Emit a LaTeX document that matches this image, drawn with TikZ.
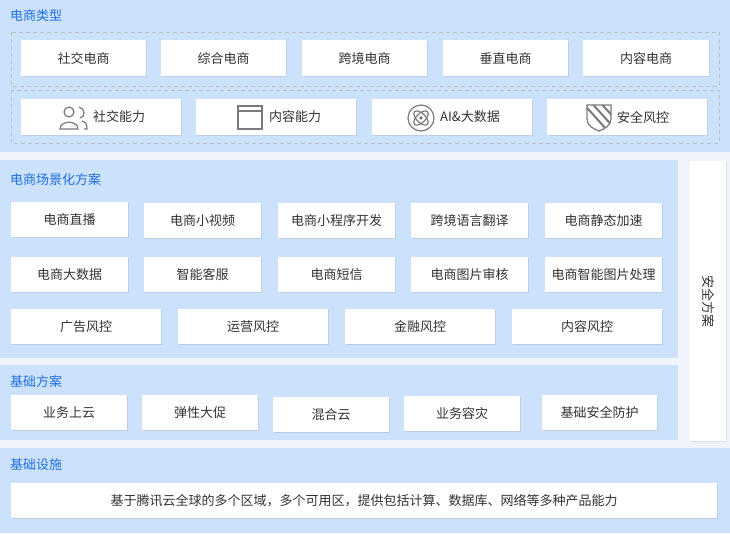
\documentclass[tikz,border=0pt]{standalone}
\usepackage{fontspec}
\setmainfont{Noto Sans CJK SC}
\usetikzlibrary{shadows}
\definecolor{pan}{HTML}{CCE1FC}
\definecolor{bgc}{HTML}{F1F5FB}
\definecolor{ttl}{HTML}{1F6FE5}
\definecolor{txt}{HTML}{333333}
\definecolor{ico}{HTML}{7A7A7A}
\tikzset{
  box/.style={draw=none,fill=white,anchor=north west,inner sep=0pt,font=\fontsize{13}{15}\selectfont,text=txt,
    drop shadow={opacity=0.18,shadow xshift=1pt,shadow yshift=-1.2pt}},
  ttlnode/.style={anchor=west,font=\fontsize{13}{15}\selectfont,text=ttl,inner sep=0pt},
  dbox/.style={draw=black!25,dashed,dash pattern=on 4pt off 3pt,line width=0.8pt},
  icn/.style={draw=ico,line width=1.2pt},
  lbl/.style={font=\fontsize{13}{15}\selectfont,text=txt,inner sep=0pt}
}
\newcommand{\bx}[6]{\node[box,minimum width={#4-#2},minimum height={#5-#3}] (#1) at (#2,#3) {#6};}
\begin{document}
\begin{tikzpicture}[x=1pt,y=-1pt]
\fill[bgc] (0,0) rectangle (730,533);
\useasboundingbox (0,0) rectangle (730,533);
% panel 1
\fill[pan] (0,0) rectangle (730,152);
\node[ttlnode] (t1) at (10,16) {电商类型};
\draw[dbox] (11,32) rectangle (719,86);
\draw[dbox] (11,90) rectangle (719,143);
\bx{a1}{21}{40}{146}{76}{社交电商}
\bx{a2}{161}{40}{286}{76}{综合电商}
\bx{a3}{302}{40}{427}{76}{跨境电商}
\bx{a4}{443}{40}{568}{76}{垂直电商}
\bx{a5}{583}{40}{709}{76}{内容电商}
\bx{b1}{21}{99}{181}{135}{}
\bx{b2}{196}{99}{356}{135}{}
\bx{b3}{372}{99}{532}{135}{}
\bx{b4}{547}{99}{707}{135}{}
\node[lbl] (l1) at (119,117) {社交能力};
\node[lbl] (l2) at (295,117) {内容能力};
\node[lbl] (l3) at (470,117) {AI\&大数据};
\node[lbl] (l4) at (643,117) {安全风控};
% icons
\draw[icn] (69,112) circle (5);
\draw[icn] (60,129) .. controls (60,120) and (78,120) .. (78,129) -- cycle;
\draw[icn] (79,107) .. controls (85,108) and (86,117) .. (80,118);
\draw[icn] (82,121) .. controls (86,122) and (87,125) .. (87,129) -- (84,129);
\draw[icn] (238,106) rectangle (262,129);
\draw[icn] (238,111) -- (262,111);
\draw[icn] (421,118) circle (13);
\draw[icn,rotate around={45:(421,118)}] (421,118) ellipse (9 and 4.5);
\draw[icn,rotate around={-45:(421,118)}] (421,118) ellipse (9 and 4.5);
\fill[ico] (421,118) circle (1.8);
\begin{scope}
\clip (587,105) -- (611,105) -- (611,119) .. controls (611,126) and (604,129) .. (599,131) .. controls (594,129) and (587,126) .. (587,119) -- cycle;
\foreach \k in {0,9,18,27} {\draw[ico,line width=2pt] (580+\k,100) -- (607+\k,130);}
\end{scope}
\draw[icn] (587,105) -- (611,105) -- (611,119) .. controls (611,126) and (604,129) .. (599,131) .. controls (594,129) and (587,126) .. (587,119) -- cycle;
% panel 2
\fill[pan] (0,160) rectangle (678,358);
\node[ttlnode] (t2) at (10,180) {电商场景化方案};
\bx{c1}{11}{202}{128}{237}{电商直播}
\bx{c2}{144}{203}{261}{238}{电商小视频}
\bx{c3}{278}{203}{395}{238}{电商小程序开发}
\bx{c4}{411}{203}{528}{238}{跨境语言翻译}
\bx{c5}{545}{203}{662}{238}{电商静态加速}
\bx{d1}{11}{257}{128}{292}{电商大数据}
\bx{d2}{144}{257}{261}{292}{智能客服}
\bx{d3}{278}{257}{395}{292}{电商短信}
\bx{d4}{411}{257}{528}{292}{电商图片审核}
\bx{d5}{545}{257}{662}{292}{电商智能图片处理}
\bx{e1}{11}{309}{161}{344}{广告风控}
\bx{e2}{178}{309}{328}{344}{运营风控}
\bx{e3}{345}{309}{495}{344}{金融风控}
\bx{e4}{512}{309}{662}{344}{内容风控}
% panel 3
\fill[pan] (0,365) rectangle (678,440);
\node[ttlnode] (t3) at (10,382) {基础方案};
\bx{f1}{11}{395}{127}{430}{业务上云}
\bx{f2}{142}{395}{258}{430}{弹性大促}
\bx{f3}{273}{397}{389}{432}{混合云}
\bx{f4}{404}{396}{520}{431}{业务容灾}
\bx{f5}{542}{395}{657}{430}{基础安全防护}
% security column
\bx{s1}{690}{161}{726}{441}{}
\node[lbl,rotate=-90] (sl) at (708,301) {安全方案};
% panel 4
\fill[pan] (0,448) rectangle (730,533);
\node[ttlnode] (t4) at (10,465) {基础设施};
\bx{g1}{11}{483}{717}{518}{基于腾讯云全球的多个区域，多个可用区，提供包括计算、数据库、网络等多种产品能力}
\end{tikzpicture}
\end{document}
